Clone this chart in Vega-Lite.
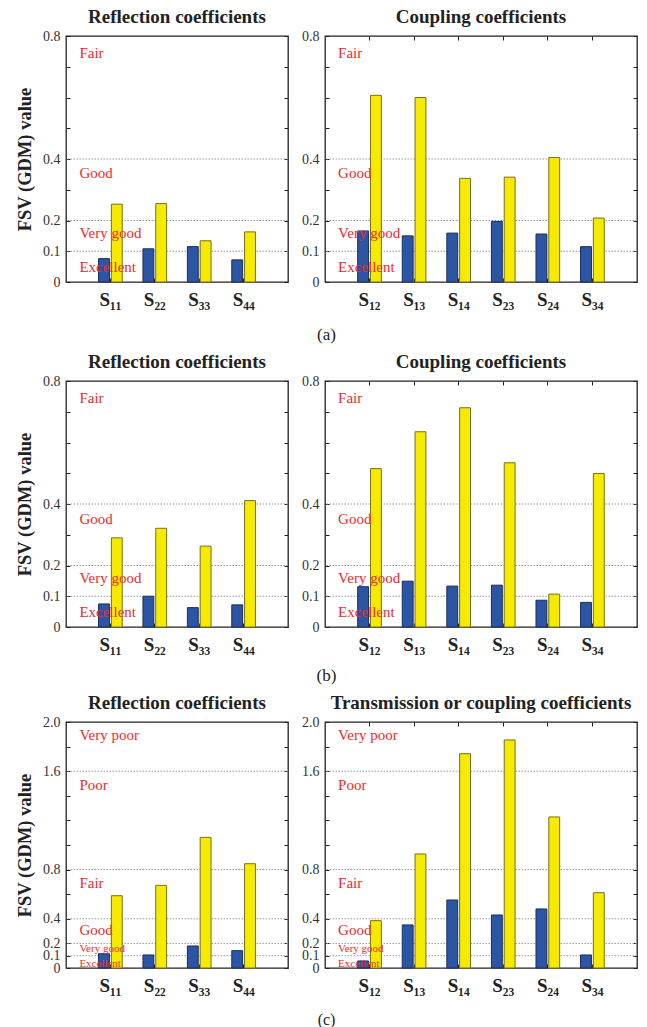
{
  "$schema": "https://vega.github.io/schema/vega-lite/v6.json",
  "padding": {"left": 14, "top": 7, "right": 6, "bottom": 0},
  "background": "white",
  "config": {
    "font": "Liberation Serif",
    "view": {"stroke": "#222", "strokeWidth": 1.3},
    "title": {"font": "Liberation Serif", "fontSize": 19, "fontWeight": "bold", "color": "#222", "offset": 2},
    "axisY": {"domain": false, "grid": false, "tickSize": -4, "tickColor": "#222", "labelFont": "Liberation Serif", "labelFontSize": 14, "labelColor": "#333", "labelPadding": 10, "labelOverlap": false, "labelBound": false, "titleFont": "Liberation Serif", "titleFontSize": 18.5, "titleFontWeight": "bold", "titleColor": "#222", "titlePadding": 8},
    "axisX": {"domain": false, "grid": false, "tickSize": -4, "tickColor": "#222", "labelFont": "Liberation Serif", "labelFontSize": 19, "labelFontWeight": "bold", "labelColor": "#222", "labelAngle": 0, "labelPadding": 12}
  },
  "datasets": {
    "bars": [
      {"fig": "a", "panel": "L", "param": "S₁₁", "series": "A", "v": 0.076},
      {"fig": "a", "panel": "L", "param": "S₁₁", "series": "B", "v": 0.253},
      {"fig": "a", "panel": "L", "param": "S₂₂", "series": "A", "v": 0.108},
      {"fig": "a", "panel": "L", "param": "S₂₂", "series": "B", "v": 0.255},
      {"fig": "a", "panel": "L", "param": "S₃₃", "series": "A", "v": 0.115},
      {"fig": "a", "panel": "L", "param": "S₃₃", "series": "B", "v": 0.134},
      {"fig": "a", "panel": "L", "param": "S₄₄", "series": "A", "v": 0.072},
      {"fig": "a", "panel": "L", "param": "S₄₄", "series": "B", "v": 0.163},
      {"fig": "a", "panel": "R", "param": "S₁₂", "series": "A", "v": 0.166},
      {"fig": "a", "panel": "R", "param": "S₁₂", "series": "B", "v": 0.607},
      {"fig": "a", "panel": "R", "param": "S₁₃", "series": "A", "v": 0.150},
      {"fig": "a", "panel": "R", "param": "S₁₃", "series": "B", "v": 0.600},
      {"fig": "a", "panel": "R", "param": "S₁₄", "series": "A", "v": 0.159},
      {"fig": "a", "panel": "R", "param": "S₁₄", "series": "B", "v": 0.337},
      {"fig": "a", "panel": "R", "param": "S₂₃", "series": "A", "v": 0.197},
      {"fig": "a", "panel": "R", "param": "S₂₃", "series": "B", "v": 0.341},
      {"fig": "a", "panel": "R", "param": "S₂₄", "series": "A", "v": 0.156},
      {"fig": "a", "panel": "R", "param": "S₂₄", "series": "B", "v": 0.405},
      {"fig": "a", "panel": "R", "param": "S₃₄", "series": "A", "v": 0.115},
      {"fig": "a", "panel": "R", "param": "S₃₄", "series": "B", "v": 0.208},
      {"fig": "b", "panel": "L", "param": "S₁₁", "series": "A", "v": 0.075},
      {"fig": "b", "panel": "L", "param": "S₁₁", "series": "B", "v": 0.290},
      {"fig": "b", "panel": "L", "param": "S₂₂", "series": "A", "v": 0.100},
      {"fig": "b", "panel": "L", "param": "S₂₂", "series": "B", "v": 0.321},
      {"fig": "b", "panel": "L", "param": "S₃₃", "series": "A", "v": 0.063},
      {"fig": "b", "panel": "L", "param": "S₃₃", "series": "B", "v": 0.263},
      {"fig": "b", "panel": "L", "param": "S₄₄", "series": "A", "v": 0.072},
      {"fig": "b", "panel": "L", "param": "S₄₄", "series": "B", "v": 0.411},
      {"fig": "b", "panel": "R", "param": "S₁₂", "series": "A", "v": 0.131},
      {"fig": "b", "panel": "R", "param": "S₁₂", "series": "B", "v": 0.515},
      {"fig": "b", "panel": "R", "param": "S₁₃", "series": "A", "v": 0.149},
      {"fig": "b", "panel": "R", "param": "S₁₃", "series": "B", "v": 0.635},
      {"fig": "b", "panel": "R", "param": "S₁₄", "series": "A", "v": 0.133},
      {"fig": "b", "panel": "R", "param": "S₁₄", "series": "B", "v": 0.713},
      {"fig": "b", "panel": "R", "param": "S₂₃", "series": "A", "v": 0.136},
      {"fig": "b", "panel": "R", "param": "S₂₃", "series": "B", "v": 0.534},
      {"fig": "b", "panel": "R", "param": "S₂₄", "series": "A", "v": 0.087},
      {"fig": "b", "panel": "R", "param": "S₂₄", "series": "B", "v": 0.107},
      {"fig": "b", "panel": "R", "param": "S₃₄", "series": "A", "v": 0.080},
      {"fig": "b", "panel": "R", "param": "S₃₄", "series": "B", "v": 0.499},
      {"fig": "c", "panel": "L", "param": "S₁₁", "series": "A", "v": 0.116},
      {"fig": "c", "panel": "L", "param": "S₁₁", "series": "B", "v": 0.588},
      {"fig": "c", "panel": "L", "param": "S₂₂", "series": "A", "v": 0.106},
      {"fig": "c", "panel": "L", "param": "S₂₂", "series": "B", "v": 0.672},
      {"fig": "c", "panel": "L", "param": "S₃₃", "series": "A", "v": 0.179},
      {"fig": "c", "panel": "L", "param": "S₃₃", "series": "B", "v": 1.062},
      {"fig": "c", "panel": "L", "param": "S₄₄", "series": "A", "v": 0.141},
      {"fig": "c", "panel": "L", "param": "S₄₄", "series": "B", "v": 0.848},
      {"fig": "c", "panel": "R", "param": "S₁₂", "series": "A", "v": 0.057},
      {"fig": "c", "panel": "R", "param": "S₁₂", "series": "B", "v": 0.385},
      {"fig": "c", "panel": "R", "param": "S₁₃", "series": "A", "v": 0.350},
      {"fig": "c", "panel": "R", "param": "S₁₃", "series": "B", "v": 0.927},
      {"fig": "c", "panel": "R", "param": "S₁₄", "series": "A", "v": 0.553},
      {"fig": "c", "panel": "R", "param": "S₁₄", "series": "B", "v": 1.742},
      {"fig": "c", "panel": "R", "param": "S₂₃", "series": "A", "v": 0.431},
      {"fig": "c", "panel": "R", "param": "S₂₃", "series": "B", "v": 1.854},
      {"fig": "c", "panel": "R", "param": "S₂₄", "series": "A", "v": 0.480},
      {"fig": "c", "panel": "R", "param": "S₂₄", "series": "B", "v": 1.228},
      {"fig": "c", "panel": "R", "param": "S₃₄", "series": "A", "v": 0.106},
      {"fig": "c", "panel": "R", "param": "S₃₄", "series": "B", "v": 0.612}
    ],
    "zones": [
      {"fig": "a", "label": "Fair", "v": 0.746},
      {"fig": "a", "label": "Good", "v": 0.354},
      {"fig": "a", "label": "Very good", "v": 0.159},
      {"fig": "a", "label": "Excellent", "v": 0.05},
      {"fig": "b", "label": "Fair", "v": 0.745},
      {"fig": "b", "label": "Good", "v": 0.351},
      {"fig": "b", "label": "Very good", "v": 0.159},
      {"fig": "b", "label": "Excellent", "v": 0.049},
      {"fig": "c", "label": "Very poor", "v": 1.894},
      {"fig": "c", "label": "Poor", "v": 1.488},
      {"fig": "c", "label": "Fair", "v": 0.691},
      {"fig": "c", "label": "Good", "v": 0.309},
      {"fig": "c", "label": "Very good", "v": 0.151},
      {"fig": "c", "label": "Excellent", "v": 0.033}
    ],
    "grid": [
      {"fig": "a", "v": 0.1}, {"fig": "a", "v": 0.2}, {"fig": "a", "v": 0.4},
      {"fig": "b", "v": 0.1}, {"fig": "b", "v": 0.2}, {"fig": "b", "v": 0.4},
      {"fig": "c", "v": 0.1}, {"fig": "c", "v": 0.2}, {"fig": "c", "v": 0.4}, {"fig": "c", "v": 0.8}, {"fig": "c", "v": 1.6}
    ]
  },
  "spacing": 9,
  "vconcat": [
    {
      "title": {"text": "(a)", "orient": "bottom", "anchor": "middle", "fontSize": 17, "fontWeight": "normal", "offset": 17},
      "spacing": 10,
      "hconcat": [
        {
          "width": 222, "height": 246,
          "title": "Reflection coefficients",
          "layer": [
            {"data": {"name": "grid"}, "transform": [{"filter": "datum.fig === 'a'"}],
             "mark": {"type": "rule", "stroke": "#999", "strokeDash": [1.5, 1.5], "strokeWidth": 1},
             "encoding": {"y": {"field": "v", "type": "quantitative", "axis": {"orient": "right", "labels": false, "title": null, "values": [0, 0.1, 0.2, 0.3, 0.4, 0.5, 0.6, 0.7, 0.8]}}}},
            {"data": {"name": "bars"}, "transform": [{"filter": "datum.fig === 'a' && datum.panel === 'L'"}],
             "mark": {"type": "bar", "strokeWidth": 1},
             "encoding": {
               "x": {"field": "param", "type": "nominal", "sort": null, "scale": {"paddingInner": 0.467, "paddingOuter": 0.733}, "axis": {"title": null}},
               "xOffset": {"field": "series", "scale": {"paddingInner": 0.15}},
               "y": {"field": "v", "type": "quantitative", "scale": {"domain": [0, 0.8], "nice": false}, "axis": {"title": "FSV (GDM) value", "values": [0, 0.1, 0.2, 0.3, 0.4, 0.5, 0.6, 0.7, 0.8], "labelExpr": "datum.value === 0 ? '0' : (indexof([0.1, 0.2, 0.4, 0.8], datum.value) >= 0 ? format(datum.value, '.1f') : '')"}},
               "fill": {"field": "series", "scale": {"domain": ["A", "B"], "range": ["#2c55a3", "#f5ea00"]}, "legend": null},
               "stroke": {"field": "series", "scale": {"domain": ["A", "B"], "range": ["#1a2c62", "#77701c"]}, "legend": null}
             }},
            {"data": {"name": "zones"}, "transform": [{"filter": "datum.fig === 'a'"}],
             "mark": {"type": "text", "align": "left", "baseline": "middle", "color": "#ee2b2b", "fontSize": 15, "dx": -31},
             "encoding": {"x": {"datum": "S₁₁", "type": "nominal"}, "y": {"field": "v", "type": "quantitative", "axis": null}, "text": {"field": "label"}}}
          ],
          "resolve": {"axis": {"y": "independent"}}
        },
        {
          "width": 312, "height": 246,
          "title": "Coupling coefficients",
          "layer": [
            {"data": {"name": "grid"}, "transform": [{"filter": "datum.fig === 'a'"}],
             "mark": {"type": "rule", "stroke": "#999", "strokeDash": [1.5, 1.5], "strokeWidth": 1},
             "encoding": {"y": {"field": "v", "type": "quantitative", "axis": {"orient": "right", "labels": false, "title": null, "values": [0, 0.1, 0.2, 0.3, 0.4, 0.5, 0.6, 0.7, 0.8]}}}},
            {"data": {"name": "bars"}, "transform": [{"filter": "datum.fig === 'a' && datum.panel === 'R'"}],
             "mark": {"type": "bar", "strokeWidth": 1},
             "encoding": {
               "x": {"field": "param", "type": "nominal", "sort": null, "scale": {"paddingInner": 0.467, "paddingOuter": 0.733}, "axis": {"title": null}},
               "xOffset": {"field": "series", "scale": {"paddingInner": 0.15}},
               "y": {"field": "v", "type": "quantitative", "scale": {"domain": [0, 0.8], "nice": false}, "axis": {"title": null, "values": [0, 0.1, 0.2, 0.3, 0.4, 0.5, 0.6, 0.7, 0.8], "labelExpr": "datum.value === 0 ? '0' : (indexof([0.1, 0.2, 0.4, 0.8], datum.value) >= 0 ? format(datum.value, '.1f') : '')"}},
               "fill": {"field": "series", "scale": {"domain": ["A", "B"], "range": ["#2c55a3", "#f5ea00"]}, "legend": null},
               "stroke": {"field": "series", "scale": {"domain": ["A", "B"], "range": ["#1a2c62", "#77701c"]}, "legend": null}
             }},
            {"data": {"name": "zones"}, "transform": [{"filter": "datum.fig === 'a'"}],
             "mark": {"type": "text", "align": "left", "baseline": "middle", "color": "#ee2b2b", "fontSize": 15, "dx": -31.5},
             "encoding": {"x": {"datum": "S₁₂", "type": "nominal", "axis": {"orient": "top", "labels": false, "title": null}}, "y": {"field": "v", "type": "quantitative", "axis": null}, "text": {"field": "label"}}}
          ],
          "resolve": {"axis": {"y": "independent", "x": "independent"}}
        }
      ]
    },
    {
      "title": {"text": "(b)", "orient": "bottom", "anchor": "middle", "fontSize": 17, "fontWeight": "normal", "offset": 13},
      "spacing": 10,
      "hconcat": [
        {
          "width": 222, "height": 246,
          "title": "Reflection coefficients",
          "layer": [
            {"data": {"name": "grid"}, "transform": [{"filter": "datum.fig === 'b'"}],
             "mark": {"type": "rule", "stroke": "#999", "strokeDash": [1.5, 1.5], "strokeWidth": 1},
             "encoding": {"y": {"field": "v", "type": "quantitative", "axis": {"orient": "right", "labels": false, "title": null, "values": [0, 0.1, 0.2, 0.3, 0.4, 0.5, 0.6, 0.7, 0.8]}}}},
            {"data": {"name": "bars"}, "transform": [{"filter": "datum.fig === 'b' && datum.panel === 'L'"}],
             "mark": {"type": "bar", "strokeWidth": 1},
             "encoding": {
               "x": {"field": "param", "type": "nominal", "sort": null, "scale": {"paddingInner": 0.467, "paddingOuter": 0.733}, "axis": {"title": null}},
               "xOffset": {"field": "series", "scale": {"paddingInner": 0.15}},
               "y": {"field": "v", "type": "quantitative", "scale": {"domain": [0, 0.8], "nice": false}, "axis": {"title": "FSV (GDM) value", "values": [0, 0.1, 0.2, 0.3, 0.4, 0.5, 0.6, 0.7, 0.8], "labelExpr": "datum.value === 0 ? '0' : (indexof([0.1, 0.2, 0.4, 0.8], datum.value) >= 0 ? format(datum.value, '.1f') : '')"}},
               "fill": {"field": "series", "scale": {"domain": ["A", "B"], "range": ["#2c55a3", "#f5ea00"]}, "legend": null},
               "stroke": {"field": "series", "scale": {"domain": ["A", "B"], "range": ["#1a2c62", "#77701c"]}, "legend": null}
             }},
            {"data": {"name": "zones"}, "transform": [{"filter": "datum.fig === 'b'"}],
             "mark": {"type": "text", "align": "left", "baseline": "middle", "color": "#ee2b2b", "fontSize": 15, "dx": -31},
             "encoding": {"x": {"datum": "S₁₁", "type": "nominal"}, "y": {"field": "v", "type": "quantitative", "axis": null}, "text": {"field": "label"}}}
          ],
          "resolve": {"axis": {"y": "independent"}}
        },
        {
          "width": 312, "height": 246,
          "title": "Coupling coefficients",
          "layer": [
            {"data": {"name": "grid"}, "transform": [{"filter": "datum.fig === 'b'"}],
             "mark": {"type": "rule", "stroke": "#999", "strokeDash": [1.5, 1.5], "strokeWidth": 1},
             "encoding": {"y": {"field": "v", "type": "quantitative", "axis": {"orient": "right", "labels": false, "title": null, "values": [0, 0.1, 0.2, 0.3, 0.4, 0.5, 0.6, 0.7, 0.8]}}}},
            {"data": {"name": "bars"}, "transform": [{"filter": "datum.fig === 'b' && datum.panel === 'R'"}],
             "mark": {"type": "bar", "strokeWidth": 1},
             "encoding": {
               "x": {"field": "param", "type": "nominal", "sort": null, "scale": {"paddingInner": 0.467, "paddingOuter": 0.733}, "axis": {"title": null}},
               "xOffset": {"field": "series", "scale": {"paddingInner": 0.15}},
               "y": {"field": "v", "type": "quantitative", "scale": {"domain": [0, 0.8], "nice": false}, "axis": {"title": null, "values": [0, 0.1, 0.2, 0.3, 0.4, 0.5, 0.6, 0.7, 0.8], "labelExpr": "datum.value === 0 ? '0' : (indexof([0.1, 0.2, 0.4, 0.8], datum.value) >= 0 ? format(datum.value, '.1f') : '')"}},
               "fill": {"field": "series", "scale": {"domain": ["A", "B"], "range": ["#2c55a3", "#f5ea00"]}, "legend": null},
               "stroke": {"field": "series", "scale": {"domain": ["A", "B"], "range": ["#1a2c62", "#77701c"]}, "legend": null}
             }},
            {"data": {"name": "zones"}, "transform": [{"filter": "datum.fig === 'b'"}],
             "mark": {"type": "text", "align": "left", "baseline": "middle", "color": "#ee2b2b", "fontSize": 15, "dx": -31.5},
             "encoding": {"x": {"datum": "S₁₂", "type": "nominal", "axis": {"orient": "top", "labels": false, "title": null}}, "y": {"field": "v", "type": "quantitative", "axis": null}, "text": {"field": "label"}}}
          ],
          "resolve": {"axis": {"y": "independent", "x": "independent"}}
        }
      ]
    },
    {
      "title": {"text": "(c)", "orient": "bottom", "anchor": "middle", "fontSize": 16, "fontWeight": "normal", "offset": 16},
      "spacing": 10,
      "hconcat": [
        {
          "width": 222, "height": 246,
          "title": "Reflection coefficients",
          "layer": [
            {"data": {"name": "grid"}, "transform": [{"filter": "datum.fig === 'c'"}],
             "mark": {"type": "rule", "stroke": "#999", "strokeDash": [1.5, 1.5], "strokeWidth": 1},
             "encoding": {"y": {"field": "v", "type": "quantitative", "axis": {"orient": "right", "labels": false, "title": null, "values": [0, 0.1, 0.2, 0.4, 0.6, 0.8, 1.0, 1.2, 1.4, 1.6, 1.8, 2.0]}}}},
            {"data": {"name": "bars"}, "transform": [{"filter": "datum.fig === 'c' && datum.panel === 'L'"}],
             "mark": {"type": "bar", "strokeWidth": 1},
             "encoding": {
               "x": {"field": "param", "type": "nominal", "sort": null, "scale": {"paddingInner": 0.467, "paddingOuter": 0.733}, "axis": {"title": null}},
               "xOffset": {"field": "series", "scale": {"paddingInner": 0.15}},
               "y": {"field": "v", "type": "quantitative", "scale": {"domain": [0, 2], "nice": false}, "axis": {"title": "FSV (GDM) value", "values": [0, 0.1, 0.2, 0.4, 0.6, 0.8, 1.0, 1.2, 1.4, 1.6, 1.8, 2.0], "labelExpr": "datum.value === 0 ? '0' : (indexof([0.1, 0.2, 0.4, 0.8, 1.6, 2], datum.value) >= 0 ? format(datum.value, '.1f') : '')"}},
               "fill": {"field": "series", "scale": {"domain": ["A", "B"], "range": ["#2c55a3", "#f5ea00"]}, "legend": null},
               "stroke": {"field": "series", "scale": {"domain": ["A", "B"], "range": ["#1a2c62", "#77701c"]}, "legend": null}
             }},
            {"data": {"name": "zones"}, "transform": [{"filter": "datum.fig === 'c'"}],
             "mark": {"type": "text", "align": "left", "baseline": "middle", "color": "#ee2b2b", "dx": -31},
             "encoding": {"x": {"datum": "S₁₁", "type": "nominal"}, "y": {"field": "v", "type": "quantitative", "axis": null}, "text": {"field": "label"},
               "size": {"condition": {"test": "datum.v < 0.2", "value": 11}, "value": 15}}}
          ],
          "resolve": {"axis": {"y": "independent"}}
        },
        {
          "width": 312, "height": 246,
          "title": "Transmission or coupling coefficients",
          "layer": [
            {"data": {"name": "grid"}, "transform": [{"filter": "datum.fig === 'c'"}],
             "mark": {"type": "rule", "stroke": "#999", "strokeDash": [1.5, 1.5], "strokeWidth": 1},
             "encoding": {"y": {"field": "v", "type": "quantitative", "axis": {"orient": "right", "labels": false, "title": null, "values": [0, 0.1, 0.2, 0.4, 0.6, 0.8, 1.0, 1.2, 1.4, 1.6, 1.8, 2.0]}}}},
            {"data": {"name": "bars"}, "transform": [{"filter": "datum.fig === 'c' && datum.panel === 'R'"}],
             "mark": {"type": "bar", "strokeWidth": 1},
             "encoding": {
               "x": {"field": "param", "type": "nominal", "sort": null, "scale": {"paddingInner": 0.467, "paddingOuter": 0.733}, "axis": {"title": null}},
               "xOffset": {"field": "series", "scale": {"paddingInner": 0.15}},
               "y": {"field": "v", "type": "quantitative", "scale": {"domain": [0, 2], "nice": false}, "axis": {"title": null, "values": [0, 0.1, 0.2, 0.4, 0.6, 0.8, 1.0, 1.2, 1.4, 1.6, 1.8, 2.0], "labelExpr": "datum.value === 0 ? '0' : (indexof([0.1, 0.2, 0.4, 0.8, 1.6, 2], datum.value) >= 0 ? format(datum.value, '.1f') : '')"}},
               "fill": {"field": "series", "scale": {"domain": ["A", "B"], "range": ["#2c55a3", "#f5ea00"]}, "legend": null},
               "stroke": {"field": "series", "scale": {"domain": ["A", "B"], "range": ["#1a2c62", "#77701c"]}, "legend": null}
             }},
            {"data": {"name": "zones"}, "transform": [{"filter": "datum.fig === 'c'"}],
             "mark": {"type": "text", "align": "left", "baseline": "middle", "color": "#ee2b2b", "dx": -31.5},
             "encoding": {"x": {"datum": "S₁₂", "type": "nominal", "axis": {"orient": "top", "labels": false, "title": null}}, "y": {"field": "v", "type": "quantitative", "axis": null}, "text": {"field": "label"},
               "size": {"condition": {"test": "datum.v < 0.2", "value": 11}, "value": 15}}}
          ],
          "resolve": {"axis": {"y": "independent", "x": "independent"}}
        }
      ]
    }
  ]
}
